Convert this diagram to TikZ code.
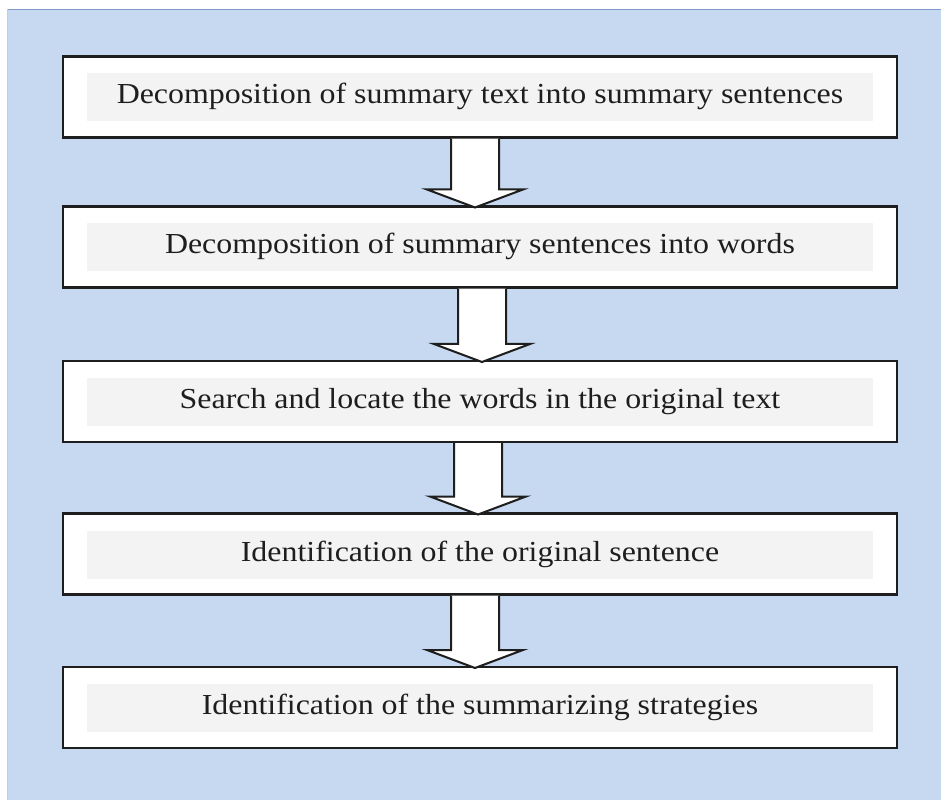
\documentclass[tikz,border=0pt]{standalone}
\usepackage{fontspec}
\setmainfont{Liberation Serif}[FakeStretch=1.1]
\usetikzlibrary{calc}
\definecolor{bgblue}{HTML}{C6D9F1}
\definecolor{bgedge}{HTML}{7F9CC8}
\definecolor{stripgrey}{HTML}{F3F3F3}
\definecolor{ink}{HTML}{1E1E1E}
\begin{document}
\begin{tikzpicture}[x=1pt,y=-1pt,
  stepbox/.style={draw=ink, line width=2.2pt, fill=white, outer sep=0pt,
    minimum width=834pt, minimum height=81pt, inner sep=0pt,
    text height=20pt, text depth=6pt,
    font=\fontsize{29}{34}\selectfont, text=ink,
    path picture={\fill[stripgrey]
      ([xshift=24pt,yshift=-17pt]path picture bounding box.north west) rectangle
      ([xshift=-24pt,yshift=16pt]path picture bounding box.south east);}},
  flowarrow/.style={draw=ink, line width=2pt, fill=white, line join=miter}]
\useasboundingbox (0,0) rectangle (946,802);
\fill[bgblue] (7,9) rectangle (941,800);
\draw[bgedge, line width=1.5pt] (7,9.75) -- (941,9.75);
\draw[bgedge!50, line width=1pt] (7.5,9) -- (7.5,800);

\node[stepbox] (b1) at (480,97) {Decomposition of summary text into summary sentences};
\node[stepbox] (b2) at (480,247) {Decomposition of summary sentences into words};
\node[stepbox] (b3) at (480,401.5) {Search and locate the words in the original text};
\node[stepbox] (b4) at (480,554) {Identification of the original sentence};
\node[stepbox] (b5) at (480,707.5) {Identification of the summarizing strategies};

\foreach \a/\b/\o in {b1/b2/-5, b2/b3/2, b3/b4/-2, b4/b5/-5}{
  \filldraw[flowarrow]
    ($(\a.south)+(\o-24,1.2)$) -- ($(\b.north)+(\o-24,-17)$) --
    ($(\b.north)+(\o-48,-17)$) -- ($(\b.north)+(\o,1)$) --
    ($(\b.north)+(\o+48,-17)$) -- ($(\b.north)+(\o+24,-17)$) --
    ($(\a.south)+(\o+24,1.2)$);
}
\end{tikzpicture}
\end{document}
